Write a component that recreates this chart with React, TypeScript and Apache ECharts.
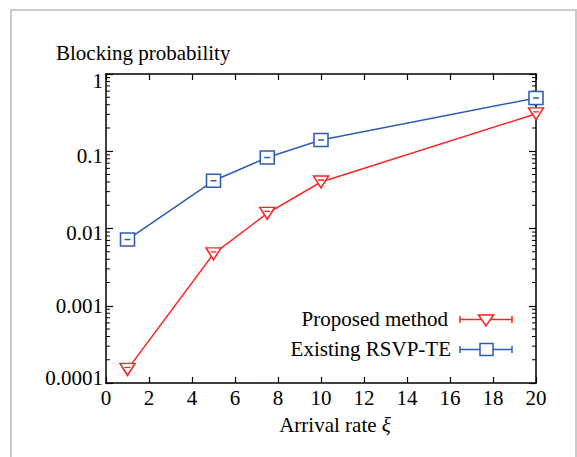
import React, { useEffect, useRef } from "react";
import * as echarts from "echarts";

const xValues = [1, 5, 7.5, 10, 20];
const proposedValues = [0.00015, 0.0047, 0.0157, 0.04, 0.305];
const existingValues = [0.0072, 0.0415, 0.083, 0.14, 0.49];
const yTickLabels = ["0.0001", "0.001", "0.01", "0.1", "1"];
const minorMultipliers = [2, 3, 4, 5, 6, 7, 8, 9];
const decades = [0.0001, 0.001, 0.01, 0.1];

const RED = "#ff2222";
const BLUE = "#2d5cb4";
const FONT = "Liberation Serif";

export default function App() {
  const ref = useRef<HTMLDivElement>(null);
  useEffect(() => {
    document.body.style.margin = "0";
    document.body.style.background = "#fff";
    const chart = echarts.init(ref.current!, null, { renderer: "svg" });
    const minorTicks: number[][] = [];
    decades.forEach((d) => minorMultipliers.forEach((m) => minorTicks.push([0, d * m])));

    const axisLine = { show: true, onZero: false, lineStyle: { color: "#000", width: 1.5 } };
    const labelStyle = { fontFamily: FONT, fontSize: 21, color: "#000", lineHeight: 21 };
    const richBase = { fontFamily: FONT, fontSize: 21, color: "#000", lineHeight: 21 };
    // small vertical offsets of the y labels as they sit in the reference
    const yLabelRich = {
      t0: { ...richBase, padding: [0, 0, 10, 0] },
      t1: { ...richBase, padding: [0, 0, 0, 0] },
      t2: { ...richBase, padding: [9, 0, 0, 0] },
      t3: { ...richBase, padding: [10, 0, 0, 0] },
      t4: { ...richBase, padding: [13, 0, 0, 0] },
    };

    const option: any = {
      animation: false,
      backgroundColor: "#fff",
      title: {
        text: "Blocking probability",
        left: 56,
        top: 42,
        padding: 0,
        textStyle: { fontFamily: FONT, fontSize: 21, fontWeight: "normal", color: "#000", lineHeight: 21 },
      },
      grid: { left: 106, top: 74, width: 430, height: 309, containLabel: false },
      xAxis: [
        {
          type: "value",
          min: 0,
          max: 20,
          interval: 2,
          position: "bottom",
          axisLine,
          axisTick: { show: true, inside: true, length: 6, lineStyle: { color: "#000", width: 1.2 } },
          axisLabel: { ...labelStyle, margin: 4 },
          splitLine: { show: false },
          name: "Arrival rate {i|ξ}",
          nameLocation: "middle",
          nameGap: 31,
          nameTextStyle: {
            ...labelStyle,
            padding: [0, 0, 0, 28],
            rich: { i: { fontFamily: FONT, fontSize: 21, fontStyle: "italic", color: "#000" } },
          },
        },
        {
          type: "value",
          min: 0,
          max: 20,
          interval: 2,
          position: "top",
          axisLine,
          axisTick: { show: true, inside: true, length: 6, lineStyle: { color: "#000", width: 1.2 } },
          axisLabel: { show: false },
          splitLine: { show: false },
        },
      ],
      yAxis: [
        {
          type: "log",
          logBase: 10,
          min: 0.0001,
          max: 1,
          position: "left",
          axisLine,
          axisTick: { show: true, inside: true, length: 7, lineStyle: { color: "#000", width: 1.2 } },
          axisLabel: {
            ...labelStyle,
            margin: 3,
            formatter: (v: number) => {
              const k = Math.round(Math.log10(v)) + 4;
              const s = yTickLabels[k];
              return s === undefined ? "" : `{t${k}|${s}}`;
            },
            rich: yLabelRich,
          },
          splitLine: { show: false },
        },
        {
          type: "log",
          logBase: 10,
          min: 0.0001,
          max: 1,
          position: "right",
          axisLine,
          axisTick: { show: true, inside: true, length: 7, lineStyle: { color: "#000", width: 1.2 } },
          axisLabel: { show: false },
          splitLine: { show: false },
        },
      ],
      series: [
        {
          name: "Existing RSVP-TE",
          type: "line",
          data: xValues.map((x, i) => [x, existingValues[i]]),
          symbol: "path://M0,0L14,0L14,13L0,13Z M4,6.5L10,6.5",
          symbolSize: [14, 13],
          showAllSymbol: true,
          lineStyle: { color: BLUE, width: 1.5 },
          itemStyle: { color: "#fff", borderColor: BLUE, borderWidth: 1.5 },
          z: 3,
        },
        {
          name: "Proposed method",
          type: "line",
          data: xValues.map((x, i) => [x, proposedValues[i]]),
          symbol: "path://M0,0L15,0L7.5,12Z M4.5,4L10.5,4",
          symbolSize: [15, 12],
          showAllSymbol: true,
          lineStyle: { color: RED, width: 1.5 },
          itemStyle: { color: "#fff", borderColor: RED, borderWidth: 1.5 },
          z: 3,
        },
        {
          name: "minor ticks",
          type: "custom",
          silent: true,
          clip: false,
          data: minorTicks,
          renderItem: (params: any, api: any) => {
            const y = api.coord([0, api.value(1)])[1];
            const cs = params.coordSys;
            const st = { stroke: "#000", lineWidth: 1 };
            return {
              type: "group",
              children: [
                { type: "line", shape: { x1: cs.x, y1: y, x2: cs.x + 4, y2: y }, style: st },
                { type: "line", shape: { x1: cs.x + cs.width - 4, y1: y, x2: cs.x + cs.width, y2: y }, style: st },
              ],
            };
          },
          z: 2,
        },
      ],
      graphic: [
        {
          type: "rect",
          shape: { x: 11, y: 10, width: 565, height: 470 },
          style: { fill: "none", stroke: "#cbcbcb", lineWidth: 2 },
          silent: true,
        },
        {
          type: "text",
          x: 448,
          y: 319,
          style: { text: "Proposed method", font: `21px '${FONT}'`, fill: "#000", align: "right", verticalAlign: "middle" },
        },
        { type: "line", shape: { x1: 460, y1: 319.5, x2: 512, y2: 319.5 }, style: { stroke: RED, lineWidth: 1.5 } },
        { type: "line", shape: { x1: 460, y1: 316, x2: 460, y2: 323 }, style: { stroke: RED, lineWidth: 1.5 } },
        { type: "line", shape: { x1: 512, y1: 316, x2: 512, y2: 323 }, style: { stroke: RED, lineWidth: 1.5 } },
        {
          type: "polygon",
          shape: { points: [[478.5, 315], [493.5, 315], [486, 326]] },
          style: { fill: "#fff", stroke: RED, lineWidth: 1.5 },
        },
        {
          type: "text",
          x: 451,
          y: 348.5,
          style: { text: "Existing RSVP-TE", font: `21px '${FONT}'`, fill: "#000", align: "right", verticalAlign: "middle" },
        },
        { type: "line", shape: { x1: 460, y1: 349.5, x2: 512, y2: 349.5 }, style: { stroke: BLUE, lineWidth: 1.5 } },
        { type: "line", shape: { x1: 460, y1: 346, x2: 460, y2: 353 }, style: { stroke: BLUE, lineWidth: 1.5 } },
        { type: "line", shape: { x1: 512, y1: 346, x2: 512, y2: 353 }, style: { stroke: BLUE, lineWidth: 1.5 } },
        {
          type: "rect",
          shape: { x: 480, y: 343.5, width: 13, height: 12 },
          style: { fill: "#fff", stroke: BLUE, lineWidth: 1.5 },
        },
      ],
    };
    chart.setOption(option);
    return () => chart.dispose();
  }, []);
  return (
    <div
      ref={ref}
      style={{ position: "fixed", left: 0, top: 0, width: 577, height: 457, background: "#fff" }}
    />
  );
}
